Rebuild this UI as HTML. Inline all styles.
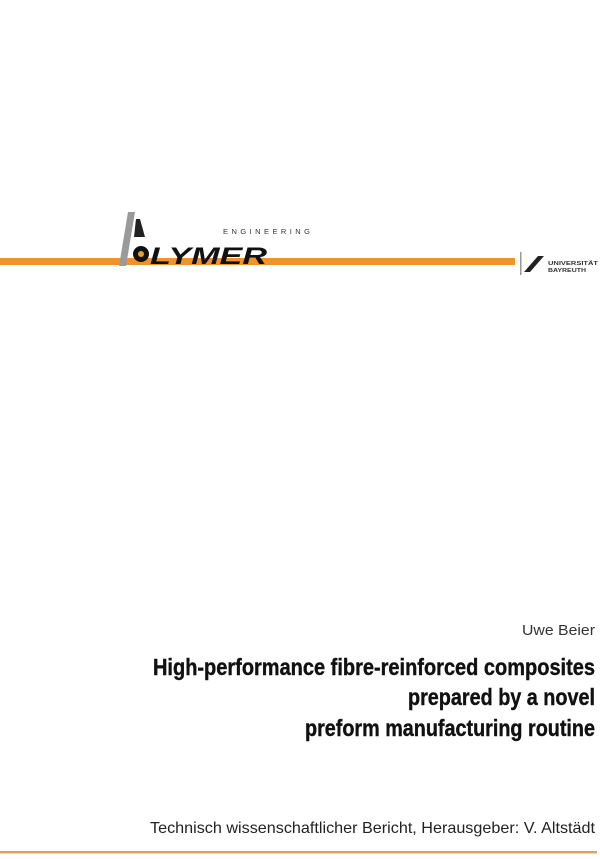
<!DOCTYPE html>
<html><head><meta charset="utf-8"><style>
html,body{margin:0;padding:0;background:#fff;}
svg{display:block;}
</style></head><body>
<svg width="600" height="859" viewBox="0 0 600 859" xmlns="http://www.w3.org/2000/svg">
<rect width="600" height="859" fill="#fff"/>
<!-- orange bar -->
<rect x="0" y="258" width="515" height="7" fill="#f0932b"/>
<!-- logo -->
<polygon points="128,212 135,212 126,266 119,266" fill="#9a9a9a"/>
<polygon points="136,219 140,219 145,237 134,237" fill="#222"/>
<circle cx="141" cy="254" r="8" fill="#111"/>
<circle cx="141" cy="254" r="3" fill="#e8a030"/>
<text x="150" y="264" font-family="Liberation Sans, sans-serif" font-weight="bold" font-style="italic" font-size="24" textLength="117" lengthAdjust="spacingAndGlyphs" fill="#111">LYMER</text>
<text x="223" y="234" font-family="Liberation Sans, sans-serif" font-size="7.5" textLength="87" lengthAdjust="spacing" fill="#333">ENGINEERING</text>
<!-- university logo -->
<rect x="520" y="252" width="1.5" height="23" fill="#999"/>
<polygon points="524,272 538,256 544,256 530,272" fill="#222"/>
<text x="548" y="265" font-family="Liberation Sans, sans-serif" font-size="5.5" font-weight="bold" textLength="50" lengthAdjust="spacingAndGlyphs" fill="#333">UNIVERSITÄT</text>
<text x="548" y="272" font-family="Liberation Sans, sans-serif" font-size="5.5" font-weight="bold" textLength="38" lengthAdjust="spacingAndGlyphs" fill="#333">BAYREUTH</text>
<!-- author and title -->
<text x="595" y="635" text-anchor="end" font-family="Liberation Sans Narrow, Liberation Sans, sans-serif" font-size="15" textLength="73" lengthAdjust="spacingAndGlyphs" fill="#333">Uwe Beier</text>
<g font-family="Liberation Sans Narrow, Liberation Sans, sans-serif" font-weight="bold" font-size="23" fill="#111" stroke="#111" stroke-width="0.4">
<text x="153" y="675" textLength="442" lengthAdjust="spacingAndGlyphs">High-performance fibre-reinforced composites</text>
<text x="408" y="705" textLength="187" lengthAdjust="spacingAndGlyphs">prepared by a novel</text>
<text x="305" y="736" textLength="290" lengthAdjust="spacingAndGlyphs">preform manufacturing routine</text>
</g>
<text x="150" y="833" font-family="Liberation Sans Narrow, Liberation Sans, sans-serif" font-size="16" textLength="445" lengthAdjust="spacingAndGlyphs" fill="#222">Technisch wissenschaftlicher Bericht, Herausgeber: V. Altstädt</text>
<rect x="0" y="851" width="597" height="2.5" fill="#e0a060"/>
</svg>
</body></html>
